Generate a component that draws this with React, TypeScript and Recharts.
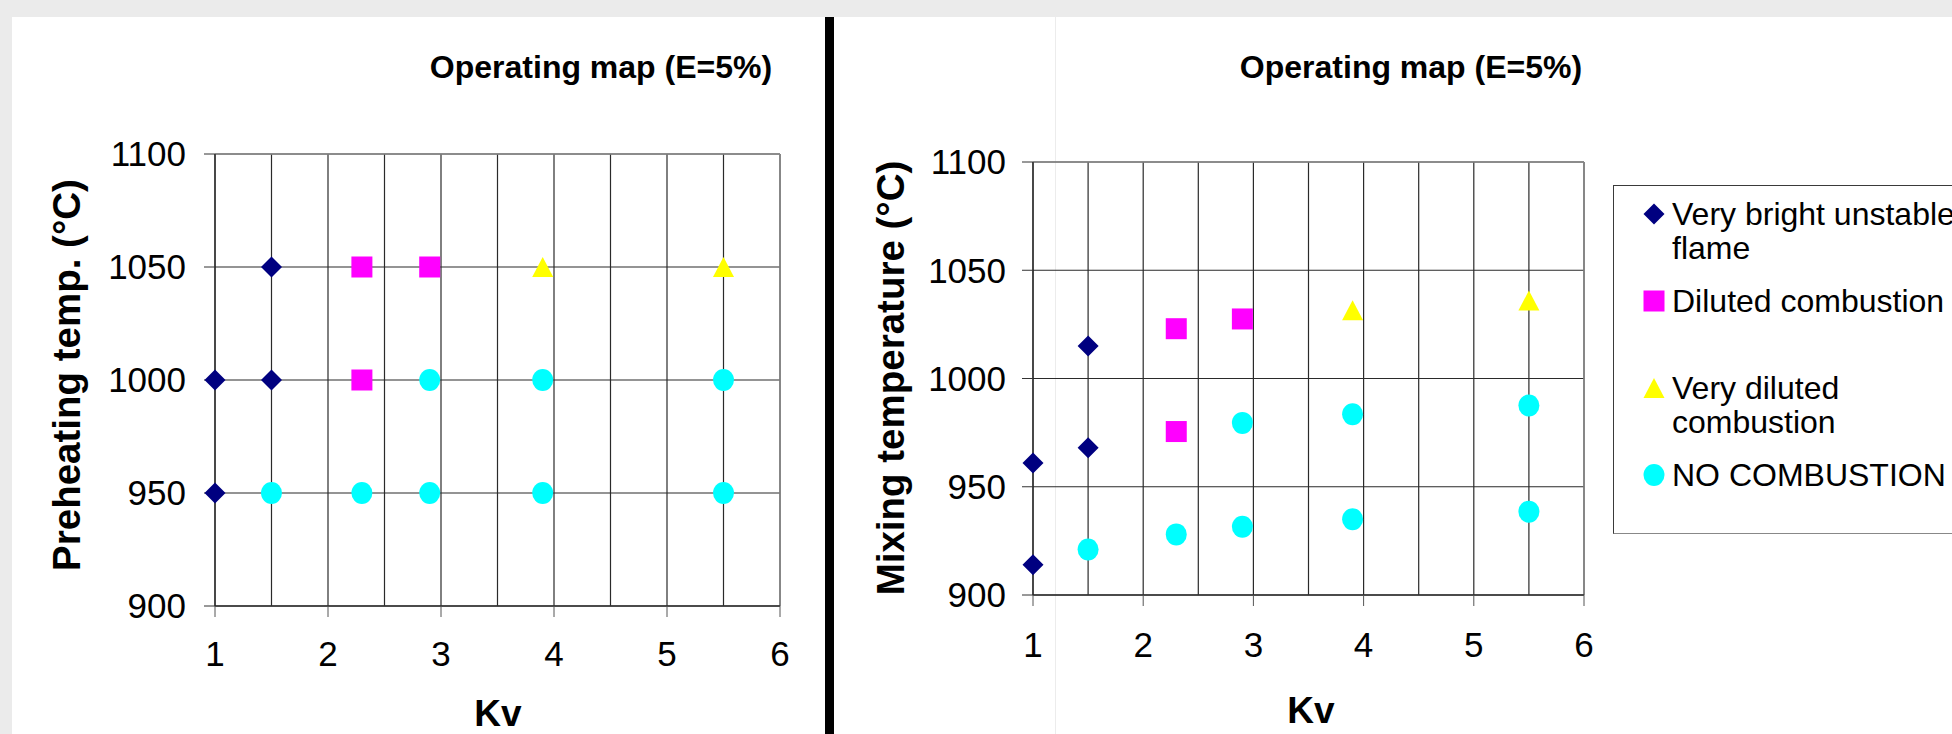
import React from 'react';
import { ScatterChart, Scatter, XAxis, YAxis, CartesianGrid, ReferenceLine } from 'recharts';

const FONT = 'Arial, "Liberation Sans", sans-serif';

const KV_TICKS = [1, 2, 3, 4, 5, 6];
const KV_GRID = [1, 1.5, 2, 2.5, 3, 3.5, 4, 4.5, 5, 5.5, 6];
const TEMP_TICKS = [900, 950, 1000, 1050, 1100];

const TITLE = 'Operating map (E=5%)';
const SERIES_LABELS = ['Very bright unstable\nflame', 'Diluted combustion', 'Very diluted\ncombustion', 'NO COMBUSTION'];
const SERIES_COLORS = ['#000080', '#ff00ff', '#ffff00', '#00ffff'];
const SERIES_MARKERS = ['diamond', 'square', 'triangle', 'circle'];

// left chart: preheating temperature
const PRE_BRIGHT_KV = [1.5, 1, 1.5, 1];
const PRE_BRIGHT_T = [1050, 1000, 1000, 950];
const PRE_DILUTED_KV = [2.3, 2.9, 2.3];
const PRE_DILUTED_T = [1050, 1050, 1000];
const PRE_VERY_KV = [3.9, 5.5];
const PRE_VERY_T = [1050, 1050];
const PRE_NO_KV = [2.9, 3.9, 5.5, 1.5, 2.3, 2.9, 3.9, 5.5];
const PRE_NO_T = [1000, 1000, 1000, 950, 950, 950, 950, 950];

// right chart: mixing temperature
const MIX_BRIGHT_KV = [1, 1, 1.5, 1.5];
const MIX_BRIGHT_T = [914, 961, 968, 1015];
const MIX_DILUTED_KV = [2.3, 2.3, 2.9];
const MIX_DILUTED_T = [975.5, 1023, 1027.5];
const MIX_VERY_KV = [3.9, 5.5];
const MIX_VERY_T = [1031.5, 1036];
const MIX_NO_KV = [1.5, 2.3, 2.9, 3.9, 5.5, 2.9, 3.9, 5.5];
const MIX_NO_T = [921, 928, 931.5, 935, 938.5, 979.5, 983.5, 987.5];

const toPoints = (kv: number[], t: number[]) => kv.map((k, i) => ({ kv: k, t: t[i] }));

const PRE_SERIES = [
  toPoints(PRE_BRIGHT_KV, PRE_BRIGHT_T),
  toPoints(PRE_DILUTED_KV, PRE_DILUTED_T),
  toPoints(PRE_VERY_KV, PRE_VERY_T),
  toPoints(PRE_NO_KV, PRE_NO_T),
];
const MIX_SERIES = [
  toPoints(MIX_BRIGHT_KV, MIX_BRIGHT_T),
  toPoints(MIX_DILUTED_KV, MIX_DILUTED_T),
  toPoints(MIX_VERY_KV, MIX_VERY_T),
  toPoints(MIX_NO_KV, MIX_NO_T),
];

function Marker({ kind, cx, cy, color }: { kind: string; cx: number; cy: number; color: string }) {
  if (kind === 'diamond') {
    return <polygon points={`${cx},${cy - 10.5} ${cx + 10.5},${cy} ${cx},${cy + 10.5} ${cx - 10.5},${cy}`} fill={color} />;
  }
  if (kind === 'square') return <rect x={cx - 10.5} y={cy - 10.5} width={21} height={21} fill={color} />;
  if (kind === 'triangle') {
    return <polygon points={`${cx},${cy - 10} ${cx + 10.5},${cy + 10} ${cx - 10.5},${cy + 10}`} fill={color} />;
  }
  return <ellipse cx={cx} cy={cy} rx={10.5} ry={11} fill={color} />;
}

interface PanelProps {
  series: { kv: number; t: number }[][];
  width: number;
  height: number;
  yAxisWidth: number;
  margin: { top: number; right: number; bottom: number; left: number };
  xTickMargin: number;
  yTickMargin: number;
}

function OperatingChart({ series, width, height, yAxisWidth, margin, xTickMargin, yTickMargin }: PanelProps) {
  const tick = { fontSize: 35, fill: '#000', fontFamily: FONT };
  return (
    <ScatterChart width={width} height={height} margin={margin}>
      <CartesianGrid stroke="#2a2a2a" strokeWidth={1.2} verticalValues={KV_GRID} horizontalValues={TEMP_TICKS} />
      <ReferenceLine y={1100} stroke="#8a8a8a" strokeWidth={1.5} />
      <ReferenceLine x={6} stroke="#8a8a8a" strokeWidth={1.5} />
      <XAxis
        type="number"
        dataKey="kv"
        domain={[1, 6]}
        ticks={KV_TICKS}
        interval={0}
        height={60}
        tickSize={11}
        tickMargin={xTickMargin}
        tick={tick}
        axisLine={{ stroke: '#333', strokeWidth: 1.5 }}
        tickLine={{ stroke: '#555' }}
      />
      <YAxis
        type="number"
        dataKey="t"
        domain={[900, 1100]}
        ticks={TEMP_TICKS}
        interval={0}
        width={yAxisWidth}
        tickSize={11}
        tickMargin={yTickMargin}
        tick={tick}
        axisLine={{ stroke: '#222', strokeWidth: 1.2 }}
        tickLine={{ stroke: '#333' }}
      />
      {series.map((pts, i) => (
        <Scatter
          key={SERIES_LABELS[i]}
          name={SERIES_LABELS[i]}
          data={pts}
          isAnimationActive={false}
          shape={(p: any) => <Marker kind={SERIES_MARKERS[i]} cx={p.cx} cy={p.cy} color={SERIES_COLORS[i]} />}
        />
      ))}
    </ScatterChart>
  );
}

function Centered({ x, y, size, bold, rotate, children }: any) {
  return (
    <div
      style={{
        position: 'absolute',
        left: x,
        top: y,
        transform: `translate(-50%, -50%)${rotate ? ' rotate(-90deg)' : ''}`,
        fontSize: size,
        fontWeight: bold ? 700 : 400,
        lineHeight: 1,
        whiteSpace: 'nowrap',
        color: '#000',
      }}
    >
      {children}
    </div>
  );
}

function Legend() {
  return (
    <div
      style={{
        position: 'absolute',
        left: 1613,
        top: 185,
        width: 420,
        height: 349,
        border: '1.5px solid #3a3a3a',
        borderBottomColor: '#888',
        background: '#fff',
        boxSizing: 'border-box',
      }}
    >
      {SERIES_LABELS.map((label, i) => (
        <div key={label} style={{ position: 'absolute', left: 0, top: 11 + i * 87, height: 87, width: '100%' }}>
          <svg width={24} height={24} style={{ position: 'absolute', left: 28, top: 5 }}>
            <Marker kind={SERIES_MARKERS[i]} cx={12} cy={12} color={SERIES_COLORS[i]} />
          </svg>
          <div style={{ position: 'absolute', left: 58, top: 0, fontSize: 32, lineHeight: '34px', whiteSpace: 'pre' }}>{label}</div>
        </div>
      ))}
    </div>
  );
}

export default function App() {
  return (
    <div
      style={{
        position: 'absolute',
        left: 0,
        top: 0,
        width: 1952,
        height: 734,
        background: '#ebebeb',
        overflow: 'hidden',
        fontFamily: FONT,
      }}
    >
      <div style={{ position: 'absolute', left: 12, top: 17, width: 813, height: 717, background: '#fff' }}>
        <OperatingChart
          series={PRE_SERIES}
          width={813}
          height={717}
          yAxisWidth={203}
          margin={{ top: 137, right: 45, bottom: 68, left: 0 }}
          xTickMargin={24}
          yTickMargin={18}
        />
      </div>
      <div style={{ position: 'absolute', left: 825, top: 17, width: 9, height: 717, background: '#000' }} />
      <div style={{ position: 'absolute', left: 834, top: 17, width: 1118, height: 717, background: '#fff' }}>
        <div style={{ position: 'absolute', left: 221, top: 0, width: 1, height: 717, background: '#ececec' }} />
        <OperatingChart
          series={MIX_SERIES}
          width={1118}
          height={717}
          yAxisWidth={199}
          margin={{ top: 145, right: 368, bottom: 79, left: 0 }}
          xTickMargin={26}
          yTickMargin={16}
        />
      </div>

      <Centered x={601} y={67} size={32} bold>{TITLE}</Centered>
      <Centered x={1411} y={67} size={32} bold>{TITLE}</Centered>

      <Centered x={67} y={375} size={38.5} bold rotate>Preheating temp. (°C)</Centered>
      <Centered x={891} y={378} size={38.5} bold rotate>Mixing temperature (°C)</Centered>

      <Centered x={498} y={713} size={37} bold>Kv</Centered>
      <Centered x={1311} y={710} size={37} bold>Kv</Centered>

      <Legend />
    </div>
  );
}
